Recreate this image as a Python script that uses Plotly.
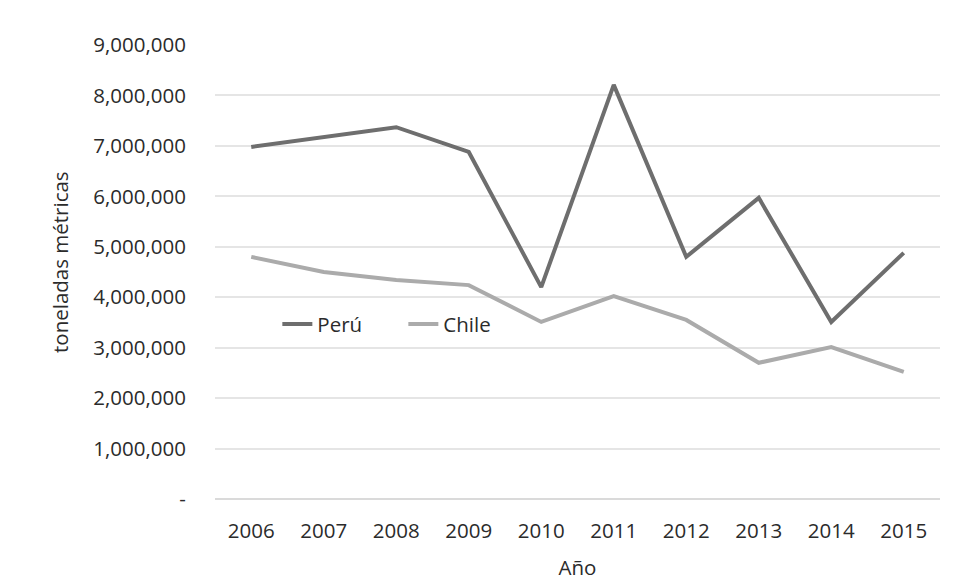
import plotly.graph_objects as go

years = ["2006", "2007", "2008", "2009", "2010", "2011", "2012", "2013", "2014", "2015"]
peru = [6980000, 7180000, 7370000, 6880000, 4200000, 8210000, 4800000, 5970000, 3510000, 4880000]
chile = [4800000, 4500000, 4340000, 4240000, 3510000, 4020000, 3550000, 2700000, 3010000, 2520000]
ytick_vals = [0, 1000000, 2000000, 3000000, 4000000, 5000000, 6000000, 7000000, 8000000, 9000000]
ytick_text = ["-", "1,000,000", "2,000,000", "3,000,000", "4,000,000", "5,000,000",
              "6,000,000", "7,000,000", "8,000,000", "9,000,000"]

font_family = "Open Sans"
text_color = "#2b2b2b"
fs = 20.5

fig = go.Figure()
fig.add_trace(go.Scatter(x=years, y=peru, name="Perú", mode="lines",
                         line=dict(color="#6e6e6e", width=4)))
fig.add_trace(go.Scatter(x=years, y=chile, name="Chile", mode="lines",
                         line=dict(color="#ababab", width=4)))

# page body has an 8px margin, so the figure is drawn at (8, 8)
fig.update_layout(
    width=950, height=575,
    margin=dict(l=207, r=18, t=37, b=84, autoexpand=False),
    paper_bgcolor="white", plot_bgcolor="white",
    font=dict(family=font_family, size=fs, color=text_color),
    showlegend=True,
    legend=dict(orientation="h", x=0.086, y=0.385, xanchor="left", yanchor="middle",
                bgcolor="rgba(0,0,0,0)", font=dict(size=fs, color=text_color),
                itemwidth=30, tracegroupgap=0, entrywidth=81),
    xaxis=dict(type="category", range=[-0.5, 9.5], showgrid=False, showline=False,
               zeroline=False, ticks="outside", ticklen=13, tickcolor="rgba(0,0,0,0)",
               automargin=False,
               title=dict(text="Año", standoff=18, font=dict(size=fs, color=text_color))),
    yaxis=dict(range=[0, 9000000], tickvals=ytick_vals, ticktext=ytick_text,
               showgrid=True, gridcolor="#e5e5e5", gridwidth=1.5,
               zeroline=True, zerolinecolor="#dadada", zerolinewidth=1.5,
               showline=False, ticks="outside", ticklen=24, tickcolor="rgba(0,0,0,0)",
               automargin=False),
    annotations=[dict(text="toneladas métricas", textangle=-90, xref="paper", yref="paper",
                      x=-0.2138, y=0.522, xanchor="center", yanchor="middle",
                      showarrow=False, font=dict(size=fs, color=text_color))],
)

fig.write_html("out.html")
